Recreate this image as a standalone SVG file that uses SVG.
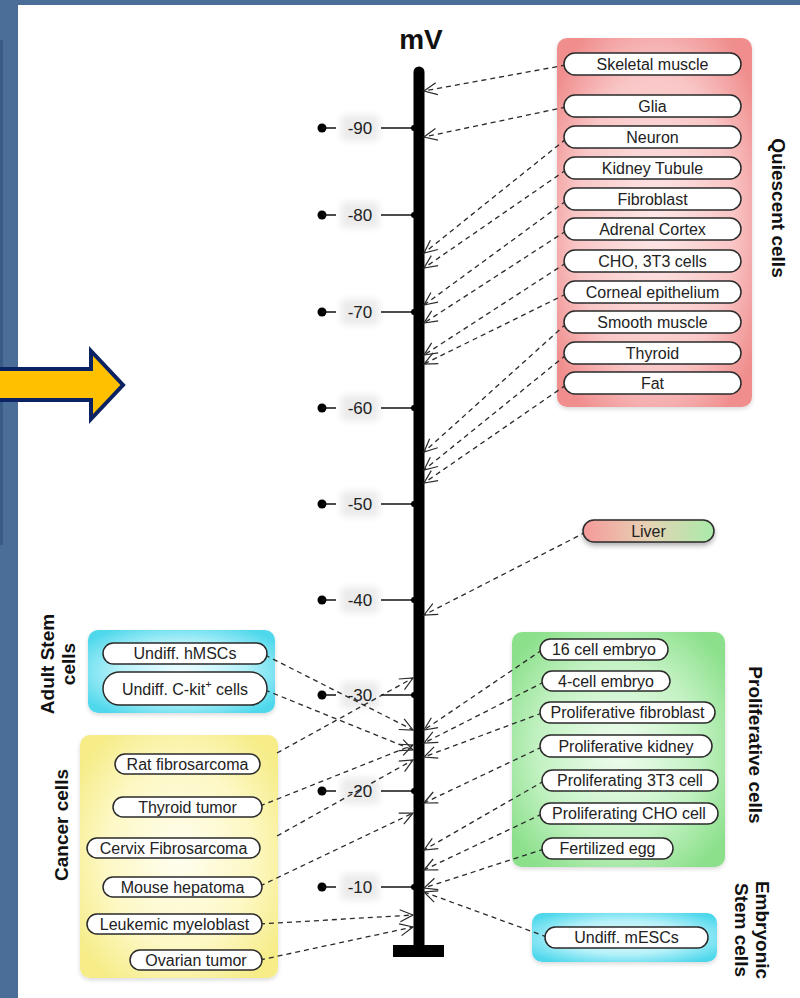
<svg xmlns="http://www.w3.org/2000/svg" width="800" height="998" viewBox="0 0 800 998">
<defs>
<style>
.pill{fill:#fff;stroke:#2a2a2a;stroke-width:1.5}
.pt{font-family:"Liberation Sans",Arial,sans-serif;font-size:16px;fill:#222;text-anchor:middle}
.gl{font-family:"Liberation Sans",Arial,sans-serif;font-size:19px;font-weight:bold;fill:#111;text-anchor:middle}
.tk{font-family:"Liberation Sans",Arial,sans-serif;font-size:17px;fill:#222;text-anchor:middle}
.con{fill:none;stroke:#2a2a2a;stroke-width:1.3;stroke-dasharray:5 4;marker-end:url(#ah)}
.tl{stroke:#111;stroke-width:1.5}
.tb{fill:#ebebeb;filter:url(#blur)}
</style>
<marker id="ah" markerUnits="userSpaceOnUse" markerWidth="16" markerHeight="14" viewBox="0 -7 16 14" refX="14" refY="0" orient="auto">
<path d="M1,-6 L14,0 L1,6" fill="none" stroke="#2a2a2a" stroke-width="1.2" stroke-dasharray="none"/>
</marker>
<radialGradient id="gPink" cx="0.5" cy="0.5" r="0.62"><stop offset="0" stop-color="#fde8e8"/><stop offset="0.65" stop-color="#f9c6c6"/><stop offset="1" stop-color="#f08e8e"/></radialGradient>
<radialGradient id="gGreen" cx="0.5" cy="0.5" r="0.62"><stop offset="0" stop-color="#effcef"/><stop offset="0.6" stop-color="#c4f2c4"/><stop offset="1" stop-color="#8ce08c"/></radialGradient>
<radialGradient id="gCyan" cx="0.5" cy="0.5" r="0.62"><stop offset="0" stop-color="#eefdff"/><stop offset="0.55" stop-color="#b6f1f9"/><stop offset="1" stop-color="#4fd8ec"/></radialGradient>
<radialGradient id="gYellow" cx="0.5" cy="0.5" r="0.62"><stop offset="0" stop-color="#fffef0"/><stop offset="0.6" stop-color="#fdf8c4"/><stop offset="1" stop-color="#f6ec88"/></radialGradient>
<linearGradient id="gLiver" x1="0" y1="0" x2="1" y2="0"><stop offset="0" stop-color="#f59a9a"/><stop offset="0.5" stop-color="#e6d2b4"/><stop offset="1" stop-color="#a9eba9"/></linearGradient>
<filter id="sh" x="-20%" y="-20%" width="140%" height="160%"><feDropShadow dx="0" dy="3" stdDeviation="2.5" flood-color="#000" flood-opacity="0.3"/></filter>
<filter id="bsh" x="-10%" y="-10%" width="120%" height="120%"><feDropShadow dx="0" dy="2" stdDeviation="2" flood-color="#000" flood-opacity="0.15"/></filter>
<filter id="blur" x="-40%" y="-40%" width="180%" height="180%"><feGaussianBlur stdDeviation="3.5"/></filter>
</defs>

<rect x="0" y="0" width="800" height="998" fill="#4b6e98"/>
<rect x="0" y="40" width="3" height="505" fill="#3a5b85"/>
<rect x="18" y="5" width="782" height="993" fill="#fff"/>

<g id="big-arrow">
<path d="M-5,369 L91,369 L91,351 L123,385 L91,419 L91,400 L-5,400 Z" fill="#ffc000" stroke="#0b2263" stroke-width="4" stroke-linejoin="miter"/>
</g>

<g id="axis">
<text x="421" y="49" font-family="Liberation Sans, Arial, sans-serif" font-size="28" font-weight="bold" fill="#111" text-anchor="middle">mV</text>
<line x1="419" y1="72" x2="419" y2="948" stroke="#000" stroke-width="11" stroke-linecap="round"/>
<rect x="393" y="945" width="51" height="12" fill="#000"/>
</g>

<g id="ticks">
<g id="tick-90"><rect class="tb" x="341" y="115" width="38" height="26" rx="4"/><circle cx="322" cy="128" r="4.5" fill="#000"/><line class="tl" x1="322" y1="128" x2="336" y2="128"/><text class="tk" x="360" y="134">-90</text><line class="tl" x1="381" y1="128" x2="414" y2="128"/><circle cx="414" cy="128" r="3" fill="#000"/></g>
<g id="tick-80"><rect class="tb" x="341" y="202" width="38" height="26" rx="4"/><circle cx="322" cy="215" r="4.5" fill="#000"/><line class="tl" x1="322" y1="215" x2="336" y2="215"/><text class="tk" x="360" y="221">-80</text><line class="tl" x1="381" y1="215" x2="414" y2="215"/><circle cx="414" cy="215" r="3" fill="#000"/></g>
<g id="tick-70"><rect class="tb" x="341" y="299" width="38" height="26" rx="4"/><circle cx="322" cy="312" r="4.5" fill="#000"/><line class="tl" x1="322" y1="312" x2="336" y2="312"/><text class="tk" x="360" y="318">-70</text><line class="tl" x1="381" y1="312" x2="414" y2="312"/><circle cx="414" cy="312" r="3" fill="#000"/></g>
<g id="tick-60"><rect class="tb" x="341" y="395" width="38" height="26" rx="4"/><circle cx="322" cy="408" r="4.5" fill="#000"/><line class="tl" x1="322" y1="408" x2="336" y2="408"/><text class="tk" x="360" y="414">-60</text><line class="tl" x1="381" y1="408" x2="414" y2="408"/><circle cx="414" cy="408" r="3" fill="#000"/></g>
<g id="tick-50"><rect class="tb" x="341" y="491" width="38" height="26" rx="4"/><circle cx="322" cy="504" r="4.5" fill="#000"/><line class="tl" x1="322" y1="504" x2="336" y2="504"/><text class="tk" x="360" y="510">-50</text><line class="tl" x1="381" y1="504" x2="414" y2="504"/><circle cx="414" cy="504" r="3" fill="#000"/></g>
<g id="tick-40"><rect class="tb" x="341" y="587" width="38" height="26" rx="4"/><circle cx="322" cy="600" r="4.5" fill="#000"/><line class="tl" x1="322" y1="600" x2="336" y2="600"/><text class="tk" x="360" y="606">-40</text><line class="tl" x1="381" y1="600" x2="414" y2="600"/><circle cx="414" cy="600" r="3" fill="#000"/></g>
<g id="tick-30"><rect class="tb" x="341" y="682" width="38" height="26" rx="4"/><circle cx="322" cy="695" r="4.5" fill="#000"/><line class="tl" x1="322" y1="695" x2="336" y2="695"/><text class="tk" x="360" y="701">-30</text><line class="tl" x1="381" y1="695" x2="414" y2="695"/><circle cx="414" cy="695" r="3" fill="#000"/></g>
<g id="tick-20"><rect class="tb" x="341" y="778" width="38" height="26" rx="4"/><circle cx="322" cy="791" r="4.5" fill="#000"/><line class="tl" x1="322" y1="791" x2="336" y2="791"/><text class="tk" x="360" y="797">-20</text><line class="tl" x1="381" y1="791" x2="414" y2="791"/><circle cx="414" cy="791" r="3" fill="#000"/></g>
<g id="tick-10"><rect class="tb" x="341" y="874" width="38" height="26" rx="4"/><circle cx="322" cy="887" r="4.5" fill="#000"/><line class="tl" x1="322" y1="887" x2="336" y2="887"/><text class="tk" x="360" y="893">-10</text><line class="tl" x1="381" y1="887" x2="414" y2="887"/><circle cx="414" cy="887" r="3" fill="#000"/></g>
</g>

<g id="clusters">
<g id="quiescent-cells"><rect x="557" y="38" width="195" height="369" rx="10" fill="url(#gPink)" filter="url(#bsh)"/><text class="gl" transform="translate(800,208) rotate(90)" x="0" y="28">Quiescent cells</text></g>
<g id="adult-stem-cells"><rect x="88" y="630" width="187" height="83" rx="10" fill="url(#gCyan)" filter="url(#bsh)"/><text class="gl" transform="translate(0,664) rotate(-90)" x="0" y="53.5">Adult Stem</text><text class="gl" transform="translate(0,664) rotate(-90)" x="0" y="74.5">cells</text></g>
<g id="cancer-cells"><rect x="80" y="735" width="198" height="243" rx="10" fill="url(#gYellow)" filter="url(#bsh)"/><text class="gl" transform="translate(0,825) rotate(-90)" x="0" y="67.5">Cancer cells</text></g>
<g id="proliferative-cells"><rect x="512" y="632" width="213" height="235" rx="10" fill="url(#gGreen)" filter="url(#bsh)"/><text class="gl" transform="translate(800,745) rotate(90)" x="0" y="51.5">Proliferative cells</text></g>
<g id="embryonic-stem-cells"><rect x="532" y="913" width="185" height="49" rx="10" fill="url(#gCyan)" filter="url(#bsh)"/><text class="gl" transform="translate(800,930) rotate(90)" x="0" y="44">Embryonic</text><text class="gl" transform="translate(800,930) rotate(90)" x="0" y="65.5">Stem cells</text></g>
</g>

<g id="connectors">
<line class="con" x1="566" y1="65" x2="424" y2="91"/>
<line class="con" x1="566" y1="107" x2="424" y2="137"/>
<line class="con" x1="566" y1="139" x2="424" y2="253"/>
<line class="con" x1="566" y1="170" x2="424" y2="268"/>
<line class="con" x1="566" y1="201" x2="424" y2="305"/>
<line class="con" x1="566" y1="231" x2="424" y2="323"/>
<line class="con" x1="566" y1="263" x2="424" y2="355"/>
<line class="con" x1="566" y1="294" x2="424" y2="364"/>
<line class="con" x1="566" y1="324" x2="424" y2="452"/>
<line class="con" x1="566" y1="355" x2="424" y2="470"/>
<line class="con" x1="566" y1="385" x2="424" y2="483"/>
<line class="con" x1="586" y1="532" x2="424" y2="615"/>
<line class="con" x1="542" y1="650" x2="424" y2="730"/>
<line class="con" x1="544" y1="682" x2="424" y2="743"/>
<line class="con" x1="542" y1="713" x2="424" y2="757"/>
<line class="con" x1="542" y1="747" x2="424" y2="803"/>
<line class="con" x1="544" y1="781" x2="424" y2="850"/>
<line class="con" x1="542" y1="814" x2="424" y2="870"/>
<line class="con" x1="544" y1="849" x2="424" y2="888"/>
<line class="con" x1="547" y1="937" x2="424" y2="892"/>
<line class="con" x1="265" y1="655" x2="413" y2="730"/>
<line class="con" x1="265" y1="690" x2="413" y2="750"/>
<line class="con" x1="277" y1="753" x2="413" y2="678"/>
<line class="con" x1="260" y1="806" x2="413" y2="745"/>
<line class="con" x1="277" y1="836" x2="413" y2="760"/>
<line class="con" x1="260" y1="886" x2="413" y2="813"/>
<line class="con" x1="260" y1="924" x2="413" y2="915"/>
<line class="con" x1="260" y1="960" x2="413" y2="927"/>
</g>

<g id="skeletal-muscle"><rect class="pill" x="564" y="53" width="177" height="22" rx="11"/><text class="pt" x="652.5" y="69.5">Skeletal muscle</text></g>
<g id="glia"><rect class="pill" x="564" y="95" width="177" height="22" rx="11"/><text class="pt" x="652.5" y="111.5">Glia</text></g>
<g id="neuron"><rect class="pill" x="564" y="126" width="177" height="22" rx="11"/><text class="pt" x="652.5" y="142.5">Neuron</text></g>
<g id="kidney-tubule"><rect class="pill" x="564" y="157" width="177" height="22" rx="11"/><text class="pt" x="652.5" y="173.5">Kidney Tubule</text></g>
<g id="fibroblast"><rect class="pill" x="564" y="188" width="177" height="22" rx="11"/><text class="pt" x="652.5" y="204.5">Fibroblast</text></g>
<g id="adrenal-cortex"><rect class="pill" x="564" y="218" width="177" height="22" rx="11"/><text class="pt" x="652.5" y="234.5">Adrenal Cortex</text></g>
<g id="cho-3t3-cells"><rect class="pill" x="564" y="250" width="177" height="22" rx="11"/><text class="pt" x="652.5" y="266.5">CHO, 3T3 cells</text></g>
<g id="corneal-epithelium"><rect class="pill" x="564" y="281" width="177" height="22" rx="11"/><text class="pt" x="652.5" y="297.5">Corneal epithelium</text></g>
<g id="smooth-muscle"><rect class="pill" x="564" y="311" width="177" height="22" rx="11"/><text class="pt" x="652.5" y="327.5">Smooth muscle</text></g>
<g id="thyroid"><rect class="pill" x="564" y="342" width="177" height="22" rx="11"/><text class="pt" x="652.5" y="358.5">Thyroid</text></g>
<g id="fat"><rect class="pill" x="564" y="372" width="177" height="22" rx="11"/><text class="pt" x="652.5" y="388.5">Fat</text></g>

<g id="liver"><rect x="583" y="520" width="131" height="22" rx="11" fill="url(#gLiver)" stroke="#2a2a2a" stroke-width="1.5" filter="url(#sh)"/><text class="pt" x="648.5" y="536.5">Liver</text></g>

<g id="cell-embryo-16"><rect class="pill" x="540" y="639" width="128" height="21" rx="10.5"/><text class="pt" x="604" y="655">16 cell embryo</text></g>
<g id="cell-embryo-4"><rect class="pill" x="542" y="671" width="128" height="20" rx="10"/><text class="pt" x="606" y="686.5">4-cell embryo</text></g>
<g id="proliferative-fibroblast"><rect class="pill" x="540" y="702" width="175" height="21" rx="10.5"/><text class="pt" x="627.5" y="718">Proliferative fibroblast</text></g>
<g id="proliferative-kidney"><rect class="pill" x="540" y="735" width="172" height="22" rx="11"/><text class="pt" x="626" y="751.5">Proliferative kidney</text></g>
<g id="proliferating-3t3-cell"><rect class="pill" x="542" y="770" width="176" height="21" rx="10.5"/><text class="pt" x="630" y="786">Proliferating 3T3 cell</text></g>
<g id="proliferating-cho-cell"><rect class="pill" x="540" y="803" width="178" height="21" rx="10.5"/><text class="pt" x="629" y="819">Proliferating CHO cell</text></g>
<g id="fertilized-egg"><rect class="pill" x="542" y="838" width="131" height="21" rx="10.5"/><text class="pt" x="607.5" y="854">Fertilized egg</text></g>

<g id="undiff-mescs"><rect class="pill" x="545" y="927" width="163" height="21" rx="10.5"/><text class="pt" x="626.5" y="943">Undiff. mESCs</text></g>

<g id="undiff-hmscs"><rect class="pill" x="103" y="643" width="164" height="21" rx="10.5"/><text class="pt" x="185" y="659">Undiff. hMSCs</text></g>
<g id="undiff-ckit-cells"><rect class="pill" x="103" y="672" width="164" height="33" rx="16.5"/><text class="pt" x="185" y="695">Undiff. C-kit<tspan font-size="11" dy="-7">+</tspan><tspan dy="7"> cells</tspan></text></g>

<g id="rat-fibrosarcoma"><rect class="pill" x="115" y="754" width="145" height="20" rx="10"/><text class="pt" x="187.5" y="769.5">Rat fibrosarcoma</text></g>
<g id="thyroid-tumor"><rect class="pill" x="113" y="797" width="149" height="20" rx="10"/><text class="pt" x="187.5" y="812.5">Thyroid tumor</text></g>
<g id="cervix-fibrosarcoma"><rect class="pill" x="87" y="838" width="173" height="20" rx="10"/><text class="pt" x="173.5" y="853.5">Cervix Fibrosarcoma</text></g>
<g id="mouse-hepatoma"><rect class="pill" x="103" y="877" width="159" height="20" rx="10"/><text class="pt" x="182.5" y="892.5">Mouse hepatoma</text></g>
<g id="leukemic-myeloblast"><rect class="pill" x="87" y="914" width="175" height="20" rx="10"/><text class="pt" x="174.5" y="929.5">Leukemic myeloblast</text></g>
<g id="ovarian-tumor"><rect class="pill" x="130" y="950" width="132" height="20" rx="10"/><text class="pt" x="196" y="965.5">Ovarian tumor</text></g>
</svg>
